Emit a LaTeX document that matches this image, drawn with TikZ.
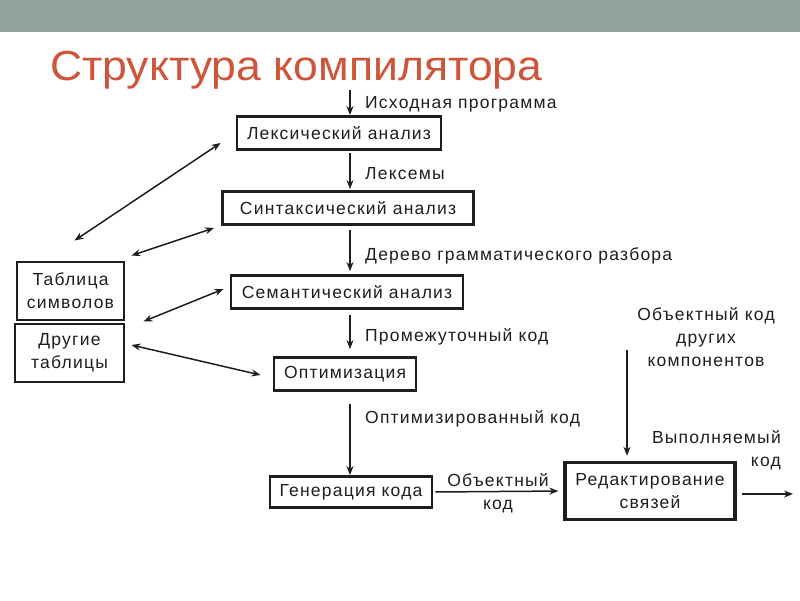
\documentclass[tikz,border=0pt]{standalone}
\usepackage{fontspec}
\setmainfont[LetterSpace=7]{Liberation Sans}
\newfontfamily\titlefont{Liberation Sans}
\usetikzlibrary{arrows.meta}
\definecolor{barcolor}{RGB}{146,161,153}
\definecolor{titlecolor}{RGB}{206,84,58}
\definecolor{inkcolor}{RGB}{30,30,30}
\tikzset{
  stage/.style={draw=inkcolor, fill=white, line width=2.9pt, inner sep=0pt,
    minimum height=33, font=\fontsize{17.5}{23}\selectfont, text=inkcolor, align=center},
  flowlabel/.style={anchor=west, inner sep=0pt, font=\fontsize{17.5}{23}\selectfont, text=inkcolor},
  flow/.style={->, draw=inkcolor, line width=1.5pt},
  link/.style={<->, draw=inkcolor, line width=1.5pt}
}
\begin{document}
\begin{tikzpicture}[x=1pt, y=-1pt, >={Stealth[length=9pt,width=7pt]}]
    \useasboundingbox (0,0) rectangle (800,600);

    % Title bar and title
    \fill[barcolor] (0,0) rectangle (800,32);
    \node[anchor=base west, inner sep=0pt, text=titlecolor,
      font=\titlefont\fontsize{42}{46}\selectfont] (title) at (50,80)
      {\scalebox{1.06}[1]{Структура компилятора}};

    % Compiler phases
    \node[stage, minimum width=204] (lex) at (339,133) {Лексический анализ};
    \node[stage, minimum width=251] (syn) at (348,208) {Синтаксический анализ};
    \node[stage, minimum width=232] (sem) at (347,292) {Семантический анализ};
    \node[stage, minimum width=142] (opt) at (345,374) {Оптимизация};
    \node[stage, minimum width=162, minimum height=31] (gen) at (351,492) {Генерация кода};
    \node[stage, minimum width=170, minimum height=57, line width=3.4pt] (linker) at (650,491) {Редактирование\\связей};

    % Tables
    \node[stage, minimum width=107, minimum height=58] (symtab) at (70.5,291) {Таблица\\символов};
    \node[stage, minimum width=109, minimum height=58] (othtab) at (69.5,353) {Другие\\таблицы};

    % Main flow
    \coordinate (spine) at (350,0);
    \coordinate (src) at (350,90);
    \draw[flow] (src) -- (lex.north -| spine);
    \draw[flow, shorten <=2pt, shorten >=1pt] (lex.south -| spine) -- (syn.north -| spine);
    \draw[flow, shorten <=4pt, shorten >=3pt] (syn.south -| spine) -- (sem.north -| spine);
    \draw[flow, shorten <=5pt, shorten >=7pt] (sem.south -| spine) -- (opt.north -| spine);
    \draw[flow, shorten <=12pt, shorten >=0pt] (opt.south -| spine) -- (gen.north -| spine);
    \draw[flow, shorten <=2pt, shorten >=5pt] (gen.east) -- (linker.west);
    \coordinate (exe) at (793,494);
    \draw[flow, shorten <=5pt] (linker.east |- exe) -- (exe);
    \coordinate (ext) at (627,350);
    \draw[flow, shorten >=5pt] (ext) -- (linker.north -| ext);

    % Flow labels
    \node[flowlabel] (srclbl) at (365,104.5) {Исходная программа};
    \node[flowlabel] (tokenlbl) at (365,173.5) {Лексемы};
    \node[flowlabel] (treelbl) at (365,255.5) {Дерево грамматического разбора};
    \node[flowlabel] (irlbl) at (365,336.5) {Промежуточный код};
    \node[flowlabel] (optlbl) at (365,418.5) {Оптимизированный код};
    \node[flowlabel, anchor=center, align=center] (objlbl) at (498,493) {Объектный\\код};
    \node[flowlabel, anchor=east, align=right] (exelbl) at (781,450) {Выполняемый\\код};
    \node[flowlabel, anchor=center, align=center] (extlbl) at (706,337) {Объектный код\\других\\компонентов};

    % Table access
    \draw[link] ([shift={(4,-20)}]symtab.north) -- ([shift={(-15,10)}]lex.west);
    \draw[link] ([shift={(6,-5)}]symtab.north east) -- ([shift={(-7,2)}]syn.south west);
    \draw[link] ([shift={(18,0)}]symtab.south east) -- ([shift={(-6,-3)}]sem.west);
    \draw[link] ([shift={(6,-8)}]othtab.east) -- ([shift={(-12,1)}]opt.west);
\end{tikzpicture}
\end{document}
